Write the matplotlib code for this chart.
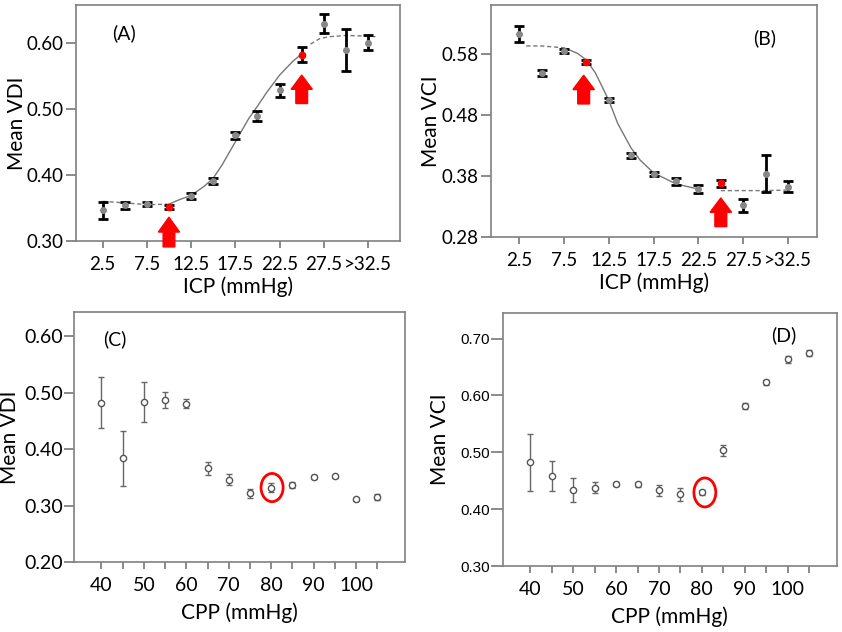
import numpy as np
import matplotlib.pyplot as plt
from matplotlib.patches import Ellipse, FancyArrow

plt.rcParams['font.family'] = ['Lato', 'DejaVu Sans']

# ICP bins (panels A and B)
icp = [2.5, 5, 7.5, 10, 12.5, 15, 17.5, 20, 22.5, 25, 27.5, 30, 32.5]
icp_ticks = [2.5, 7.5, 12.5, 17.5, 22.5, 27.5, 32.5]
icp_labels = ["2.5", "7.5", "12.5", "17.5", "22.5", "27.5", ">32.5"]

vdi_icp = [0.3465, 0.354, 0.3566, 0.3515, 0.368, 0.391, 0.460, 0.489, 0.528, 0.582, 0.629, 0.589, 0.600]
vdi_icp_err = [0.0126, 0.005, 0.003, 0.003, 0.005, 0.005, 0.005, 0.007, 0.010, 0.011, 0.014, 0.032, 0.011]

vci_icp = [0.612, 0.549, 0.585, 0.567, 0.5045, 0.414, 0.383, 0.371, 0.3585, 0.368, 0.332, 0.384, 0.362]
vci_icp_err = [0.013, 0.005, 0.003, 0.003, 0.003, 0.004, 0.003, 0.005, 0.006, 0.006, 0.011, 0.030, 0.009]

highlight_icp = [10, 25]

# fitted curves
fit_a_x = [2.5, 5, 7.5, 10, 11, 12.5, 14, 15, 16, 17.5, 19, 20, 21, 22.5, 24, 25, 26, 27, 28, 30, 32.5, 33.5]
fit_a_y = [0.360, 0.3576, 0.355, 0.3556, 0.3616, 0.369, 0.383, 0.395, 0.415, 0.450, 0.485, 0.504, 0.524, 0.551, 0.572, 0.583, 0.598, 0.606, 0.609, 0.611, 0.610, 0.609]
fit_b_x = [3.3, 5, 7.5, 9, 10, 11, 12.5, 13.5, 15, 16, 17.5, 20, 22.5, 25, 27.5, 30, 32.5]
fit_b_y = [0.593, 0.593, 0.590, 0.581, 0.570, 0.549, 0.504, 0.466, 0.4255, 0.406, 0.385, 0.367, 0.3585, 0.356, 0.356, 0.356, 0.357]

# CPP bins (panels C and D)
cpp = [40, 45, 50, 55, 60, 65, 70, 75, 80, 85, 90, 95, 100, 105]
cpp_labels = [40, 50, 60, 70, 80, 90, 100]

vdi_cpp = [0.4827, 0.3837, 0.484, 0.487, 0.481, 0.366, 0.346, 0.322, 0.332, 0.337, 0.3505, 0.352, 0.311, 0.315]
vdi_cpp_err = [0.045, 0.049, 0.036, 0.0145, 0.0085, 0.011, 0.0095, 0.0077, 0.0087, 0.005, 0.003, 0.003, 0.002, 0.005]

vci_cpp = [0.4827, 0.4587, 0.433, 0.438, 0.444, 0.4435, 0.433, 0.426, 0.4294, 0.504, 0.581, 0.623, 0.6637, 0.6748]
vci_cpp_err = [0.050, 0.026, 0.021, 0.0097, 0.003, 0.004, 0.0094, 0.011, 0.005, 0.0097, 0.005, 0.005, 0.006, 0.005]

highlight_cpp = 80

fig = plt.figure(figsize=(8.42, 6.32), dpi=100)
axA = fig.add_axes([0.0903, 0.6187, 0.3847, 0.3733])
axB = fig.add_axes([0.583, 0.625, 0.387, 0.367])
axC = fig.add_axes([0.0879, 0.1108, 0.3931, 0.3952])
axD = fig.add_axes([0.597, 0.1044, 0.397, 0.4003])

spine_col = "#808080"


def style(ax, tick_size=14, label_x=-0.15):
    for s in ax.spines.values():
        s.set_color(spine_col)
        s.set_linewidth(1.2)
    ax.tick_params(direction="out", width=1.2, color="#777777",
                   labelsize=tick_size)
    ax.tick_params(axis="y", length=7, pad=2)
    ax.tick_params(axis="x", length=5, pad=6)
    ax.yaxis.set_label_coords(label_x, 0.5)


def draw_icp(ax, y, err, fx, fy, dash_lo, dash_hi):
    fx = np.array(fx)
    fy = np.array(fy)
    lo = fx <= dash_lo
    mid = (fx >= dash_lo) & (fx <= dash_hi)
    hi = fx >= dash_hi
    ax.plot(fx[lo], fy[lo], color="#777777", ls=(0, (3, 2)), lw=1.0, zorder=1)
    ax.plot(fx[mid], fy[mid], color="#777777", ls="-", lw=1.0, zorder=1)
    ax.plot(fx[hi], fy[hi], color="#777777", ls=(0, (3, 2)), lw=1.0, zorder=1)
    ax.errorbar(icp, y, yerr=err, fmt="o", ms=4, color="#888888", mfc="#888888",
                mec="#888888", ecolor="black", elinewidth=2, capsize=3.5,
                capthick=2, zorder=3)
    for x in highlight_icp:
        i = icp.index(x)
        ax.plot(x, y[i], "o", ms=4.5, color="red", zorder=4)
    ax.set_xticks(icp_ticks)
    ax.set_xticklabels(icp_labels)
    ax.set_xlim(-0.5, 36.1)
    ax.set_xlabel("ICP (mmHg)", fontsize=15, labelpad=2)


def red_arrow(ax, x, y0, y1, width):
    ax.add_patch(FancyArrow(x, y0, 0, y1 - y0, width=width * 0.55,
                            head_width=width, head_length=(y1 - y0) * 0.5,
                            length_includes_head=True, color="red",
                            clip_on=False, zorder=5))


# (A)
draw_icp(axA, vdi_icp, vdi_icp_err, fit_a_x, fit_a_y, 10, 25.5)
axA.set_ylim(0.30, 0.657)
axA.set_yticks([0.30, 0.40, 0.50, 0.60])
axA.set_yticklabels(["0.30", "0.40", "0.50", "0.60"])
axA.set_ylabel("Mean VDI", fontsize=15)
style(axA, tick_size=13.5, label_x=-0.151)
red_arrow(axA, 10, 0.291, 0.336, 2.4)
red_arrow(axA, 25, 0.508, 0.551, 2.4)
axA.text(4.9, 0.614, "(A)", fontsize=14, ha="center", va="center")

# (B)
draw_icp(axB, vci_icp, vci_icp_err, fit_b_x, fit_b_y, 7.5, 23.0)
axB.set_ylim(0.28, 0.660)
axB.set_yticks([0.28, 0.38, 0.48, 0.58])
axB.set_yticklabels(["0.28", "0.38", "0.48", "0.58"])
axB.set_xlim(-0.65, 35.7)
axB.set_ylabel("Mean VCI", fontsize=15)
style(axB, tick_size=13.5, label_x=-0.153)
red_arrow(axB, 9.7, 0.498, 0.545, 2.4)
red_arrow(axB, 25, 0.297, 0.344, 2.4)
axB.text(29.9, 0.605, "(B)", fontsize=14, ha="center", va="center")


def draw_cpp(ax, y, err):
    ax.errorbar(cpp, y, yerr=err, fmt="o", ms=4.5, mfc="white", mec="#555555",
                mew=1.0, ecolor="#666666", elinewidth=1.0, capsize=2.5,
                capthick=1.0, zorder=3)
    i = cpp.index(highlight_cpp)
    ax.set_xticks(cpp)
    ax.set_xticklabels([str(c) if c in cpp_labels else "" for c in cpp])
    ax.set_xlim(33.56, 111.5)
    ax.set_xlabel("CPP (mmHg)", fontsize=15, labelpad=6)
    return i


# (C)
i = draw_cpp(axC, vdi_cpp, vdi_cpp_err)
axC.add_patch(Ellipse((cpp[i] + 0.2, vdi_cpp[i]), 5.2, 0.05, fill=False,
                      ec="red", lw=2, zorder=4))
axC.set_ylim(0.20, 0.643)
axC.set_yticks([0.20, 0.30, 0.40, 0.50, 0.60])
axC.set_yticklabels(["0.20", "0.30", "0.40", "0.50", "0.60"])
axC.set_ylabel("Mean VDI", fontsize=15)
style(axC, tick_size=14, label_x=-0.163)
axC.tick_params(axis="y", pad=1)
axC.text(43.2, 0.595, "(C)", fontsize=14, ha="center", va="center")

# (D)
i = draw_cpp(axD, vci_cpp, vci_cpp_err)
axD.add_patch(Ellipse((cpp[i] + 0.7, vci_cpp[i]), 5.1, 0.051, fill=False,
                      ec="red", lw=2, zorder=4))
axD.set_ylim(0.30, 0.745)
axD.set_yticks([0.30, 0.40, 0.50, 0.60, 0.70])
axD.set_yticklabels(["0.30", "0.40", "0.50", "0.60", "0.70"],
                    family="Liberation Sans")
axD.set_ylabel("Mean VCI", fontsize=15)
style(axD, tick_size=14, label_x=-0.159)
axD.tick_params(axis="y", labelsize=11, length=9, pad=0)
axD.text(99.0, 0.706, "(D)", fontsize=14, ha="center", va="center")

fig.savefig("out.png", dpi=100)
